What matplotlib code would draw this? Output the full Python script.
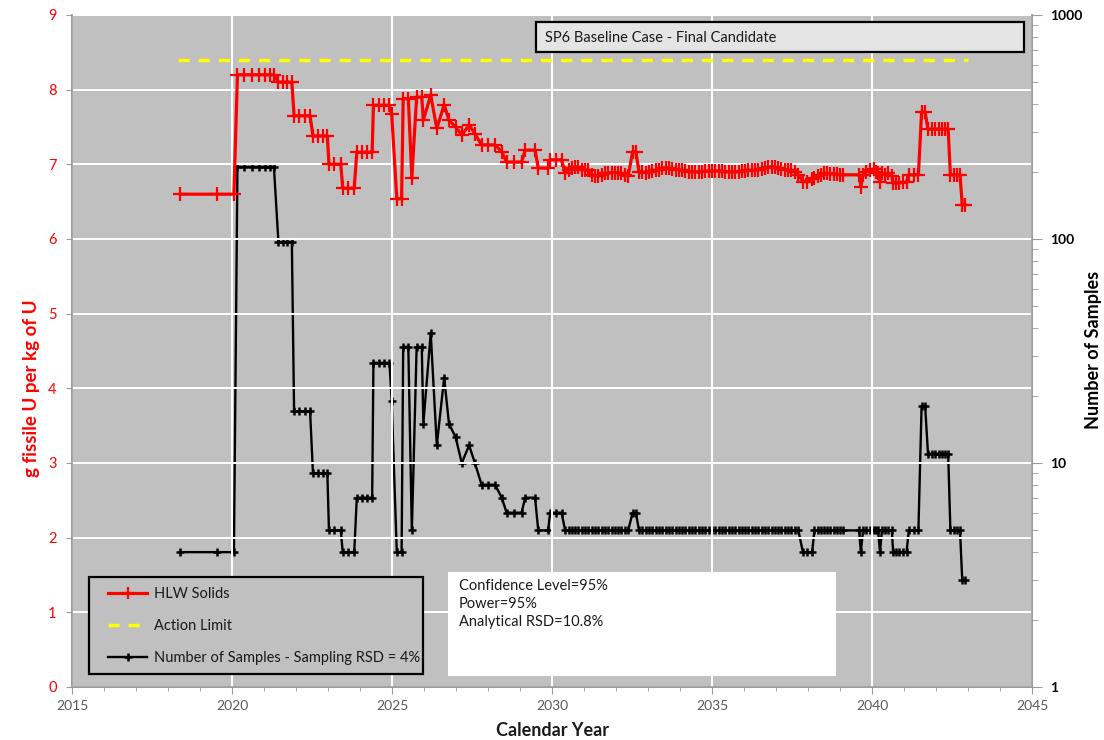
import matplotlib
matplotlib.use('Agg')
import matplotlib.pyplot as plt
from matplotlib.lines import Line2D
from matplotlib.patches import Rectangle
from matplotlib.ticker import FixedLocator, NullFormatter, LogLocator

plt.rcParams['font.family'] = ['Lato', 'DejaVu Sans']

# ---------------- data ----------------
years = [2018.38, 2019.52, 2020.06,
         2020.17, 2020.38, 2020.63, 2020.85, 2021.04, 2021.19, 2021.31,
         2021.45, 2021.58, 2021.72, 2021.87,
         2021.94, 2022.10, 2022.27, 2022.44,
         2022.53, 2022.70, 2022.85, 2022.98,
         2023.03, 2023.18, 2023.40,
         2023.46, 2023.62, 2023.82,
         2023.90, 2024.05, 2024.22, 2024.38,
         2024.42, 2024.58, 2024.75, 2024.92,
         2024.99, 2025.15, 2025.30, 2025.35, 2025.51, 2025.62, 2025.77, 2025.93,
         2025.98, 2026.21, 2026.40, 2026.63, 2026.78, 2026.99, 2027.18, 2027.41,
         2027.59, 2027.80, 2028.00, 2028.22, 2028.43, 2028.58, 2028.80, 2029.05,
         2029.16, 2029.47, 2029.57, 2029.88, 2029.94, 2030.12, 2030.30,
         2030.41, 2030.52, 2030.62, 2030.72, 2030.82, 2030.93, 2031.03, 2031.13,
         2031.24, 2031.34, 2031.45, 2031.55, 2031.65, 2031.76, 2031.86, 2031.96,
         2032.06, 2032.17, 2032.27, 2032.38, 2032.52, 2032.62, 2032.72, 2032.82,
         2032.93, 2033.03, 2033.13, 2033.24, 2033.34, 2033.45, 2033.55, 2033.65,
         2033.76, 2033.86, 2033.96, 2034.07, 2034.17, 2034.28, 2034.38, 2034.48,
         2034.59, 2034.69, 2034.79, 2034.90, 2035.00, 2035.10, 2035.21, 2035.31,
         2035.41, 2035.52, 2035.62, 2035.72, 2035.83, 2035.93, 2036.03, 2036.14,
         2036.24, 2036.34, 2036.45, 2036.55, 2036.65, 2036.76, 2036.86, 2036.96,
         2037.07, 2037.17, 2037.27, 2037.38, 2037.48, 2037.58, 2037.70,
         2037.84, 2037.98, 2038.13,
         2038.20, 2038.30, 2038.40, 2038.50, 2038.60, 2038.70, 2038.80, 2038.90,
         2039.00, 2039.09, 2039.60, 2039.65, 2039.72, 2039.82, 2039.95,
         2040.05, 2040.12, 2040.19, 2040.25, 2040.31, 2040.40, 2040.50, 2040.62,
         2040.66, 2040.76, 2040.85, 2040.96, 2041.08, 2041.15, 2041.30, 2041.45,
         2041.55, 2041.66, 2041.75, 2041.86, 2041.97, 2042.08, 2042.18, 2042.28,
         2042.38, 2042.45, 2042.55, 2042.65, 2042.75, 2042.82, 2042.90]

hlw_solids = [6.60, 6.60, 6.60,
              8.20, 8.20, 8.20, 8.20, 8.20, 8.20, 8.20,
              8.10, 8.10, 8.10, 8.10,
              7.65, 7.65, 7.65, 7.65,
              7.38, 7.38, 7.38, 7.38,
              7.00, 7.00, 7.00,
              6.68, 6.68, 6.68,
              7.16, 7.16, 7.16, 7.16,
              7.79, 7.79, 7.79, 7.79,
              7.68, 6.54, 6.54, 7.88, 7.88, 6.82, 7.90, 7.90,
              7.59, 7.93, 7.48, 7.80, 7.59, 7.50, 7.39, 7.53,
              7.41, 7.26, 7.26, 7.26, 7.17, 7.03, 7.03, 7.03,
              7.19, 7.19, 6.95, 6.95, 7.06, 7.06, 7.06,
              6.88, 6.93, 6.95, 6.97, 6.96, 6.93, 6.93, 6.92,
              6.86, 6.85, 6.84, 6.86, 6.88, 6.88, 6.89, 6.89,
              6.89, 6.88, 6.86, 6.84, 7.17, 7.17, 6.90, 6.90,
              6.89, 6.90, 6.91, 6.92, 6.93, 6.95, 6.95, 6.95,
              6.94, 6.93, 6.93, 6.92, 6.91, 6.90, 6.90, 6.90,
              6.90, 6.90, 6.91, 6.91, 6.91, 6.91, 6.91, 6.91,
              6.90, 6.90, 6.90, 6.90, 6.90, 6.91, 6.91, 6.92,
              6.92, 6.92, 6.93, 6.94, 6.95, 6.96, 6.97, 6.96,
              6.95, 6.94, 6.93, 6.92, 6.92, 6.90, 6.86,
              6.77, 6.77, 6.80,
              6.82, 6.84, 6.86, 6.88, 6.88, 6.87, 6.87, 6.87,
              6.86, 6.86, 6.86, 6.70, 6.86, 6.90, 6.92,
              6.94, 6.90, 6.88, 6.77, 6.88, 6.86, 6.88, 6.85,
              6.75, 6.75, 6.75, 6.76, 6.76, 6.86, 6.86, 6.86,
              7.70, 7.70, 7.47, 7.47, 7.47, 7.47, 7.47, 7.47,
              7.47, 6.86, 6.86, 6.86, 6.86, 6.46, 6.46]

n_samples = [4, 4, 4,
             210, 210, 210, 210, 210, 210, 210,
             97, 97, 97, 97,
             17, 17, 17, 17,
             9, 9, 9, 9,
             5, 5, 5,
             4, 4, 4,
             7, 7, 7, 7,
             28, 28, 28, 28,
             19, 4, 4, 33, 33, 5, 33, 33,
             15, 38, 12, 24, 15, 13, 10, 12,
             10, 8, 8, 8, 7, 6, 6, 6,
             7, 7, 5, 5, 6, 6, 6,
             5, 5, 5, 5, 5, 5, 5, 5,
             5, 5, 5, 5, 5, 5, 5, 5,
             5, 5, 5, 5, 6, 6, 5, 5,
             5, 5, 5, 5, 5, 5, 5, 5,
             5, 5, 5, 5, 5, 5, 5, 5,
             5, 5, 5, 5, 5, 5, 5, 5,
             5, 5, 5, 5, 5, 5, 5, 5,
             5, 5, 5, 5, 5, 5, 5, 5,
             5, 5, 5, 5, 5, 5, 5,
             4, 4, 4,
             5, 5, 5, 5, 5, 5, 5, 5,
             5, 5, 5, 4, 5, 5, 5,
             5, 5, 5, 4, 5, 5, 5, 5,
             4, 4, 4, 4, 4, 5, 5, 5,
             18, 18, 11, 11, 11, 11, 11, 11,
             11, 5, 5, 5, 5, 3, 3]

action_years = [2018.3, 2043.0]
action_limit = [8.4, 8.4]

x_ticks = [2015, 2020, 2025, 2030, 2035, 2040, 2045]
left_ticks = [0, 1, 2, 3, 4, 5, 6, 7, 8, 9]
right_ticks = [1, 10, 100, 1000]

title_text = "SP6 Baseline Case - Final Candidate"
info_text = "Confidence Level=95%\nPower=95%\nAnalytical RSD=10.8%"

# ---------------- figure ----------------
W, H = 1104, 740
fig = plt.figure(figsize=(W / 100, H / 100), dpi=100)
ax = fig.add_axes([72 / W, 1 - 687 / H, 960 / W, 672 / H])
ax.set_xlim(2015, 2045)
ax.set_ylim(0, 9)
ax.set_xticks(x_ticks)
ax.xaxis.set_minor_locator(FixedLocator(list(range(2015, 2046))))
ax.set_yticks(left_ticks)

spine_c = '#9A9A9A'
for s in ['left', 'bottom', 'right']:
    ax.spines[s].set_color(spine_c)
    ax.spines[s].set_linewidth(1.2)
ax.spines['top'].set_visible(False)

ax.tick_params(axis='x', which='major', length=5, color=spine_c, labelcolor='#595959',
               labelsize=10, pad=4)
ax.tick_params(axis='x', which='minor', length=3, color=spine_c)
ax.tick_params(axis='y', length=4, color=spine_c, labelcolor='red', labelsize=10.5, pad=7)

ax2 = ax.twinx()
ax2.set_yscale('log')
ax2.set_ylim(1, 1000)
ax2.set_yticks(right_ticks, labels=[str(t) for t in right_ticks])
ax2.yaxis.set_minor_locator(LogLocator(base=10, subs=range(2, 10)))
ax2.yaxis.set_minor_formatter(NullFormatter())
ax2.tick_params(axis='y', which='major', length=7, color=spine_c, labelsize=10, pad=6)
ax2.tick_params(axis='y', which='minor', length=4, color=spine_c)
for lbl in ax2.get_yticklabels():
    lbl.set_fontweight('bold')
for s in ['left', 'bottom', 'right']:
    ax2.spines[s].set_color(spine_c)
    ax2.spines[s].set_linewidth(1.2)
ax2.spines['top'].set_visible(False)

# background on lower axes, grid on upper (transparent) axes
ax.set_zorder(ax2.get_zorder() + 1)
ax.patch.set_visible(False)
ax2.patch.set_visible(True)
ax2.patch.set_facecolor('#C0C0C0')
ax.grid(True, which='major', color='white', linewidth=1.4, zorder=0)
ax.set_axisbelow(True)

# data
ax2.plot(years, n_samples, color='black', lw=1.7, marker='+', ms=6, mew=1.8, zorder=3)
ax.plot(action_years, action_limit, color='#FFFF00', lw=2.5, dashes=(3.2, 2.6), zorder=3)
ax.plot(years, hlw_solids, color='#FF0000', lw=2.3, marker='+', ms=9.5, mew=1.6, zorder=4)

# axis labels
ax.set_ylabel('g fissile U per kg of U', color='red', fontsize=13.5, fontweight='bold',
              ha='center', va='center')
ax.yaxis.set_label_coords((32 - 72) / 960, (687 - 388) / 672)
ax2.set_ylabel('Number of Samples', color='black', fontsize=13, fontweight='bold',
               rotation=90, ha='center', va='center')
ax2.yaxis.set_label_coords((1093 - 72) / 960, (687 - 350) / 672)
ax.set_xlabel('Calendar Year', fontsize=13, fontweight='bold', color='#1a1a1a',
              ha='center', va='center')
ax.xaxis.set_label_coords(0.5, (687 - 731) / 672)

# title box
fig.patches.append(Rectangle((536 / W, 1 - 52 / H), 488 / W, 30 / H, transform=fig.transFigure,
                             facecolor='#E4E4E4', edgecolor='black', lw=1.6, zorder=5))
fig.text(545 / W, 1 - 38 / H, title_text, fontsize=10.5, color='#1a1a1a',
         ha='left', va='center', zorder=6)

# info box
fig.patches.append(Rectangle((448 / W, 1 - 676 / H), 388 / W, 104 / H, transform=fig.transFigure,
                             facecolor='white', edgecolor='none', zorder=5))
fig.text(459 / W, 1 - 579 / H, info_text, fontsize=10.5, color='#1a1a1a',
         ha='left', va='top', linespacing=1.35, zorder=6)

# legend box
fig.patches.append(Rectangle((89 / W, 1 - 674 / H), 334 / W, 97 / H, transform=fig.transFigure,
                             facecolor='#C0C0C0', edgecolor='black', lw=1.6, zorder=5))
handles = [Line2D([], [], color='#FF0000', lw=2.3, marker='+', ms=9, mew=1.6),
           Line2D([], [], color='#FFFF00', lw=2.5, dashes=(3.2, 2.6)),
           Line2D([], [], color='black', lw=1.7, marker='+', ms=6, mew=1.8)]
labels = ['HLW Solids', 'Action Limit', 'Number of Samples - Sampling RSD = 4%']
leg = fig.legend(handles, labels, loc='upper left', bbox_to_anchor=(108 / W, 1 - 587 / H),
                 bbox_transform=fig.transFigure, frameon=False, fontsize=10.5,
                 handlelength=2.7, handletextpad=0.45, labelspacing=1.25, borderpad=0,
                 borderaxespad=0, numpoints=1)
leg.set_zorder(6)
for t in leg.get_texts():
    t.set_color('#1a1a1a')

fig.savefig('out.png', dpi=100, facecolor='white')
